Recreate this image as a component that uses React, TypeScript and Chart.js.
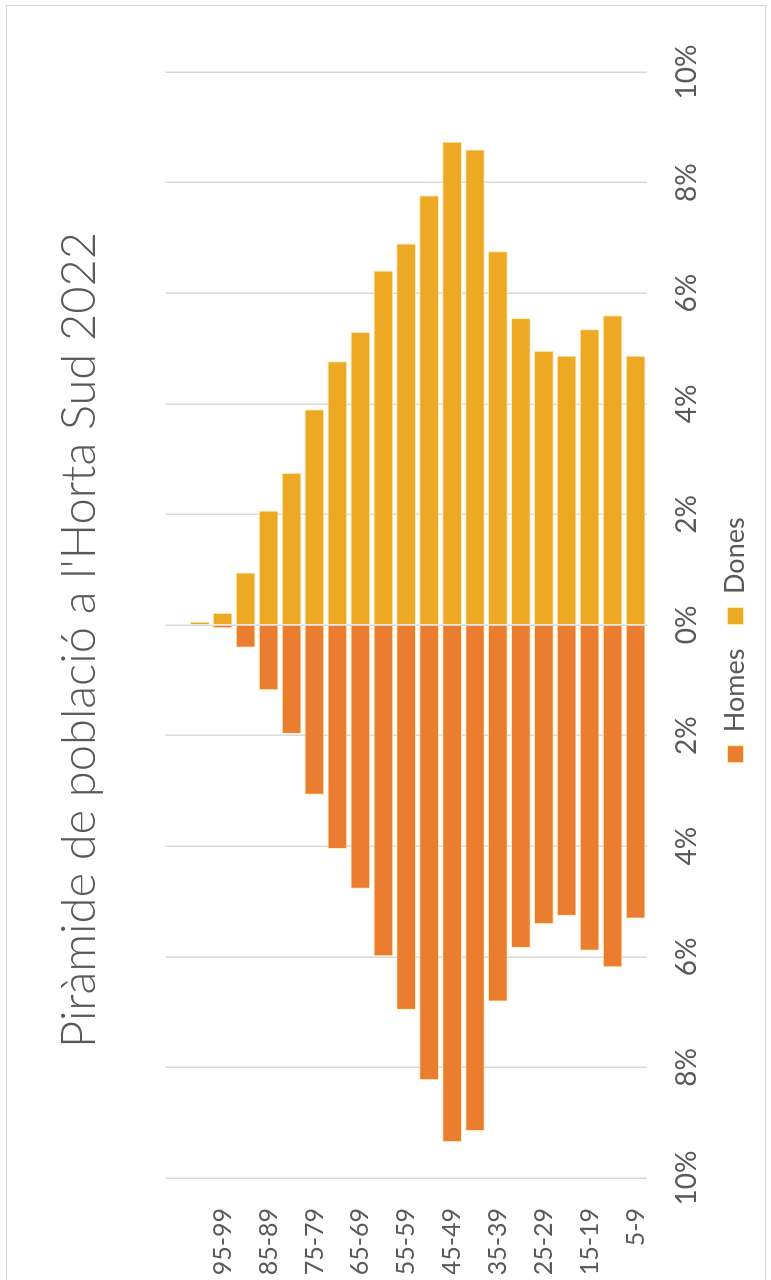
import React, { useEffect, useRef } from "react";
import { Chart, registerables } from "chart.js";

Chart.register(...registerables);

const titleText = "Piràmide de població a l'Horta Sud 2022";

// Age groups, top of the pyramid first (the first slot is empty in the source)
const ageGroups = [
  "", "100+", "95-99", "90-94", "85-89", "80-84", "75-79", "70-74", "65-69", "60-64",
  "55-59", "50-54", "45-49", "40-44", "35-39", "30-34", "25-29", "20-24", "15-19", "10-14", "5-9",
];

// Percent of population (men drawn to the left as negative values)
const homesPct = [
  null, 0.02, 0.06, 0.41, 1.18, 1.97, 3.07, 4.05, 4.77, 5.99,
  6.96, 8.23, 9.35, 9.15, 6.81, 5.84, 5.41, 5.26, 5.89, 6.19, 5.31,
];
const donesPct = [
  null, 0.06, 0.22, 0.95, 2.07, 2.75, 3.9, 4.77, 5.3, 6.41,
  6.9, 7.77, 8.74, 8.6, 6.76, 5.55, 4.96, 4.87, 5.35, 5.6, 4.87,
];

const xMin = -10;
const xMax = 10;
const xStep = 2;

const W = 1268;
const H = 759;

export default function App() {
  const canvasRef = useRef<HTMLCanvasElement | null>(null);

  useEffect(() => {
    const canvas = canvasRef.current;
    if (!canvas) return;
    const font = "Lato, 'Open Sans', sans-serif";
    const grey = "#595959";
    const chart = new Chart(canvas, {
      type: "bar",
      data: {
        labels: ageGroups,
        datasets: [
          {
            label: "Homes",
            data: homesPct.map((v) => (v == null ? null : -v)),
            backgroundColor: "#EB7D31",
            borderColor: "rgba(255,236,170,0.9)",
            borderWidth: 1,
            barPercentage: 0.86,
            categoryPercentage: 1,
          },
          {
            label: "Dones",
            data: donesPct,
            backgroundColor: "#EDA924",
            borderColor: "rgba(255,236,170,0.9)",
            borderWidth: 1,
            barPercentage: 0.86,
            categoryPercentage: 1,
          },
        ],
      },
      options: {
        indexAxis: "y",
        responsive: false,
        animation: false,
        devicePixelRatio: 1,
        layout: { padding: { left: 0, right: 0, top: 0, bottom: 6 } },
        scales: {
          x: {
            stacked: true,
            min: xMin,
            max: xMax,
            border: { display: false },
            grid: { color: "#D9D9D9", lineWidth: 1.5, drawTicks: false },
            ticks: {
              stepSize: xStep,
              padding: 23,
              color: grey,
              font: { family: font, size: 28 },
              callback: (v: any) => Math.abs(Number(v)) + "%",
            },
            afterFit: (axis: any) => {
              axis.height = 51;
            },
          },
          y: {
            stacked: true,
            border: { display: false },
            grid: { display: false, drawTicks: false },
            ticks: {
              autoSkip: false,
              padding: 30,
              color: grey,
              font: { family: font, size: 25 },
              callback: (_v: any, i: number) => (i % 2 === 0 ? ageGroups[i] : ""),
            },
            afterFit: (axis: any) => {
              axis.width = 96;
            },
          },
          yRight: {
            type: "linear",
            position: "right",
            display: true,
            border: { display: false },
            grid: { display: false, drawTicks: false },
            ticks: { display: false },
            afterFit: (axis: any) => {
              axis.width = 66;
            },
          },
        },
        plugins: {
          title: {
            display: true,
            text: titleText,
            color: grey,
            font: { family: font, size: 47, weight: "300", lineHeight: 1.2 },
            padding: { top: 46, bottom: 57 },
          },
          legend: {
            display: true,
            position: "bottom",
            labels: {
              boxWidth: 17,
              boxHeight: 16,
              padding: 24,
              color: grey,
              font: { family: font, size: 27 },
            },
          },
          tooltip: { enabled: false },
        },
      },
    });
    return () => chart.destroy();
  }, []);

  return (
    <div
      style={{
        position: "absolute",
        left: 0,
        top: 0,
        width: 771,
        height: 1280,
        overflow: "hidden",
        background: "#fff",
      }}
    >
      <div
        style={{
          position: "absolute",
          left: 6,
          top: 1274,
          width: W,
          height: H,
          transform: "rotate(-90deg)",
          transformOrigin: "0 0",
        }}
      >
        <canvas ref={canvasRef} width={W} height={H} style={{ width: W, height: H, display: "block" }} />
      </div>
      <div
        style={{
          position: "absolute",
          left: 6,
          top: 5,
          width: 758,
          height: 1280,
          borderTop: "1px solid #D4D4D4",
          borderLeft: "1px solid #D4D4D4",
          borderRight: "1px solid #D4D4D4",
          pointerEvents: "none",
        }}
      />
    </div>
  );
}
